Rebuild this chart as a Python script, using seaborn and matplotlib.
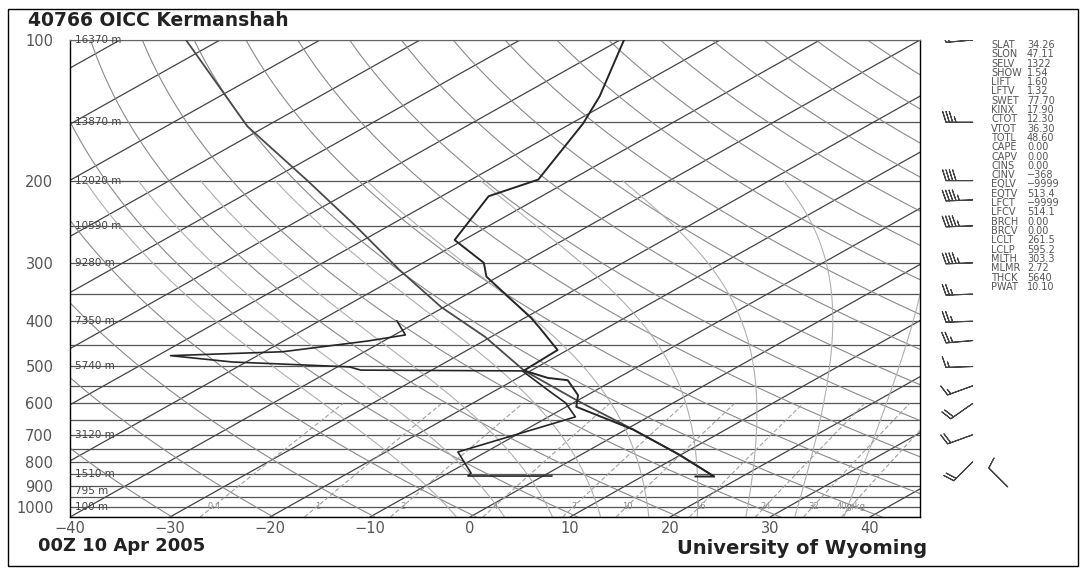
import numpy as np
import pandas as pd
import matplotlib
matplotlib.use("Agg")
import matplotlib.pyplot as plt
import seaborn as sns
from matplotlib.patches import Rectangle
from matplotlib.ticker import NullLocator
from matplotlib.transforms import blended_transform_factory

# sounding values (pressure hPa, temperature degC)
temp_p = [100, 132, 151, 199, 216, 268, 300, 321, 394, 412, 461, 510, 529, 535,
          576, 610, 682, 771, 860, 860]
temp_t = [-69.6, -62.0, -58.8, -53.3, -55.3, -50.9, -43.9, -41.2, -29.3, -26.9,
          -21.0, -20.7, -17.0, -14.6, -10.9, -9.0, 0.7, 9.7, 17.2, 15.3]

dwpt_p = [399, 428, 441, 465, 474, 489, 501, 509, 511, 569, 598, 641, 762, 846, 858, 858]
dwpt_t = [-42.3, -38.9, -41.6, -48.2, -58.7, -51.4, -38.8, -37.1, -20.8, -14.0,
          -10.8, -7.3, -12.8, -7.7, -7.5, 0.9]

parcel_p = [100, 153, 200, 251, 310, 373, 432, 510, 590, 682, 771, 860]
parcel_t = [-113.4, -91.9, -76.2, -63.1, -51.2, -40.3, -30.6, -20.7, -10.2, 0.7, 9.7, 17.2]

# winds: pressure, direction (deg from), speed (kt)
wind_p = [100, 150, 200, 220, 250, 300, 350, 400, 440, 500, 550, 600, 700, 800, 905]
wind_dir = [265, 270, 270, 268, 268, 268, 268, 268, 265, 268, 250, 235, 250, 225, 315]
wind_spd = [15, 35, 40, 45, 45, 45, 25, 25, 25, 15, 15, 20, 20, 20, 10]

height_p = [100, 150, 200, 250, 300, 400, 500, 700, 850, 925, 1000]
height_lbl = ["16370 m", "13870 m", "12020 m", "10590 m", "9280 m", "7350 m",
              "5740 m", "3120 m", "1510 m", "795 m", "100 m"]

mixr_w = [0.4, 1, 2, 4, 7, 10, 16, 24, 32, 40]
mixr_lbl = ["0.4", "1", "2", "4", "7", "10", "16", "24", "32", "40g/kg"]

index_names = ["SLAT", "SLON", "SELV", "SHOW", "LIFT", "LFTV", "SWET", "KINX", "CTOT",
               "VTOT", "TOTL", "CAPE", "CAPV", "CINS", "CINV", "EQLV", "EQTV", "LFCT",
               "LFCV", "BRCH", "BRCV", "LCLT", "LCLP", "MLTH", "MLMR", "THCK", "PWAT"]
index_vals = ["34.26", "47.11", "1322", "1.54", "1.60", "1.32", "77.70", "17.90", "12.30",
              "36.30", "48.60", "0.00", "0.00", "0.00", "\u2212368", "\u22129999", "513.4",
              "\u22129999", "514.1", "0.00", "0.00", "261.5", "595.2", "303.3", "2.72",
              "5640", "10.10"]

P_BOT, P_TOP = 1050.0, 100.0
SKEW = 85.0


def skew_x(t, p):
    return np.asarray(t, float) + SKEW * np.log(P_BOT / np.asarray(p, float)) / np.log(P_BOT / P_TOP)


def dewpoint_from_w(w, p):
    e = p * w / (622.0 + w)
    a = np.log(e / 6.112)
    return 243.5 * a / (17.67 - a)


def moist_dtdlnp(t, p):
    es = 6.112 * np.exp(17.67 * (t - 273.15) / (t - 29.65))
    rs = 0.622 * es / (p - es)
    return (287.04 * t + 2.5e6 * rs) / (1005.7 + 2.5e6 ** 2 * rs * 0.622 / (287.04 * t ** 2))


def moist_adiabat(t1000, p_end, n=200):
    lnp = np.linspace(np.log(1000.0), np.log(p_end), n)
    t = np.empty(n)
    t[0] = t1000 + 273.15
    for i in range(1, n):
        h = lnp[i] - lnp[i - 1]
        p0 = np.exp(lnp[i - 1])
        k1 = moist_dtdlnp(t[i - 1], p0)
        k2 = moist_dtdlnp(t[i - 1] + 0.5 * h * k1, np.exp(lnp[i - 1] + 0.5 * h))
        k3 = moist_dtdlnp(t[i - 1] + 0.5 * h * k2, np.exp(lnp[i - 1] + 0.5 * h))
        k4 = moist_dtdlnp(t[i - 1] + h * k3, np.exp(lnp[i]))
        t[i] = t[i - 1] + h * (k1 + 2 * k2 + 2 * k3 + k4) / 6
    return np.exp(lnp), t - 273.15


sns.set_style("white")
plt.rcParams["font.family"] = ["DejaVu Sans"]

W, H = 1084, 572
fig = plt.figure(figsize=(W / 100, H / 100), dpi=100)
L, R, T, B = 70, 920, 40, 517
ax = fig.add_axes([L / W, 1 - B / H, (R - L) / W, (B - T) / H])
ax.set_yscale("log")
ax.set_ylim(P_BOT, P_TOP)
ax.set_xlim(-40, 45)

pp = np.geomspace(P_BOT, P_TOP, 120)

# isobars
for p in np.arange(100, 1051, 50):
    ax.axhline(p, color="#555555", lw=0.9, zorder=1)

# isotherms
for t in range(-130, 50, 10):
    ax.plot(skew_x(np.full_like(pp, t), pp), pp, color="#444444", lw=0.9, zorder=1)

# dry adiabats
for th in range(200, 520, 10):
    tt = th * (pp / 1000.0) ** 0.2857 - 273.15
    ax.plot(skew_x(tt, pp), pp, color="#8a8a8a", lw=0.8, zorder=1)

# moist adiabats
for t0 in range(-4, 41, 5):
    p_up, t_up = moist_adiabat(t0, 200.0)
    p_dn, t_dn = moist_adiabat(t0, 1050.0, n=20)
    pm = np.concatenate([p_dn[::-1], p_up[1:]])
    tm = np.concatenate([t_dn[::-1], t_up[1:]])
    ax.plot(skew_x(tm, pm), pm, color="#b0b0b0", lw=0.8, zorder=1)

# mixing ratio lines
pw = np.geomspace(1050, 600, 40)
for w, lbl in zip(mixr_w, mixr_lbl):
    td = dewpoint_from_w(w, pw)
    ax.plot(skew_x(td, pw), pw, color="#a0a0a0", lw=0.8, ls=(0, (4, 2)), zorder=1)
    xl = skew_x(dewpoint_from_w(w, 995.0), 995.0)
    ax.text(xl, 995, lbl, fontsize=6, color="#888888", ha="center", va="center", zorder=2)

# sounding curves
df_par = pd.DataFrame({"x": skew_x(parcel_t, parcel_p), "p": parcel_p})
df_tmp = pd.DataFrame({"x": skew_x(temp_t, temp_p), "p": temp_p})
df_dwp = pd.DataFrame({"x": skew_x(dwpt_t, dwpt_p), "p": dwpt_p})
sns.lineplot(data=df_par, x="x", y="p", sort=False, estimator=None, color="#4a4a4a",
             lw=1.3, ax=ax, zorder=3)
sns.lineplot(data=df_tmp, x="x", y="p", sort=False, estimator=None, color="#262626",
             lw=1.4, ax=ax, zorder=4)
sns.lineplot(data=df_dwp, x="x", y="p", sort=False, estimator=None, color="#262626",
             lw=1.2, ax=ax, zorder=4)

# height labels
trans = blended_transform_factory(ax.transAxes, ax.transData)
for p, lbl in zip(height_p, height_lbl):
    ax.text(0.006, p, lbl, transform=trans, fontsize=7.5, color="#444444",
            ha="left", va="center", zorder=5)

ax.set_yticks([100, 200, 300, 400, 500, 600, 700, 800, 900, 1000])
ax.set_yticklabels(["100", "200", "300", "400", "500", "600", "700", "800", "900", "1000"])
ax.yaxis.set_minor_locator(NullLocator())
ax.set_xticks(range(-40, 41, 10))
ax.tick_params(axis="y", length=0, pad=12, labelsize=10.5, labelcolor="#555555")
ax.tick_params(axis="x", length=0, pad=3, labelsize=10.5, labelcolor="#555555")
ax.set_xlabel("")
ax.set_ylabel("")
for side in ["left", "bottom", "right"]:
    ax.spines[side].set_color("black")
    ax.spines[side].set_linewidth(1.0)
ax.spines["top"].set_color("#666666")

# wind barbs
bax = fig.add_axes([925 / W, 1 - B / H, (W - 925) / W, (B - T) / H])
bax.set_yscale("log")
bax.set_ylim(P_BOT, P_TOP)
bax.set_xlim(0, 1)
bax.axis("off")
wd = np.deg2rad(wind_dir)
u = -np.array(wind_spd) * np.sin(wd)
v = -np.array(wind_spd) * np.cos(wd)
bx = np.full(len(wind_p), 0.30)
bx[-1] = 0.52
bax.barbs(bx, wind_p, u, v, length=6.2, linewidth=0.8, color="#444444",
          sizes=dict(emptybarb=0.0))

# texts
fig.text(28 / W, 1 - 20 / H, "40766 OICC Kermanshah", fontsize=13.5, fontweight="bold",
         color="#222222", ha="left", va="center")
fig.text(38 / W, 1 - 546 / H, "00Z 10 Apr 2005", fontsize=13, fontweight="bold",
         color="#222222", ha="left", va="center")
fig.text(677 / W, 1 - 548 / H, "University of Wyoming", fontsize=14, fontweight="bold",
         color="#222222", ha="left", va="center")
for i, (nm, val) in enumerate(zip(index_names, index_vals)):
    y = 1 - (45 + i * 9.3) / H
    fig.text(991 / W, y, nm, fontsize=7, color="#555555", ha="left", va="center")
    fig.text(1027 / W, y, val, fontsize=7, color="#555555", ha="left", va="center")

fig.add_artist(Rectangle((8 / W, 6 / H), 1070 / W, 557 / H, transform=fig.transFigure,
                         fill=False, edgecolor="black", lw=1.0))

fig.savefig("out.png", dpi=100)
